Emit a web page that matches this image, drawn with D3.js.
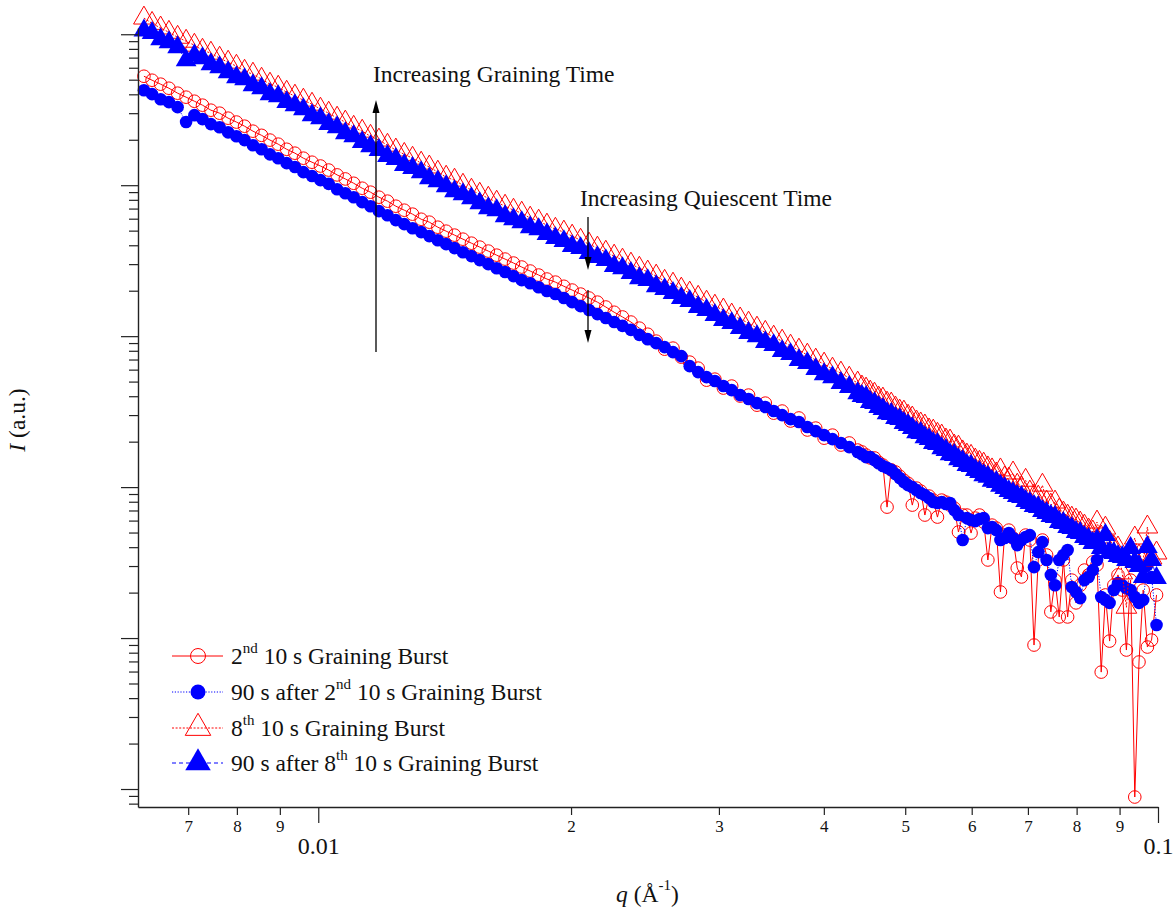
<!DOCTYPE html>
<html>
<head>
<meta charset="utf-8">
<script src="https://cdnjs.cloudflare.com/ajax/libs/d3/7.8.5/d3.min.js"></script>
<style>
  body { margin: 0; background: #fff; }
  svg { font-family: "Liberation Serif", "Times New Roman", serif; }
</style>
</head>
<body>
<svg id="chart" width="1175" height="909"></svg>
<script>
// scattering vector q (1/Angstrom), shared by all four traces
const qValues = [
  0.00620, 0.00634, 0.00649, 0.00664, 0.00680, 0.00696, 0.00712, 0.00728, 0.00745, 0.00763,
  0.00781, 0.00799, 0.00817, 0.00836, 0.00856, 0.00876, 0.00896, 0.00917, 0.00938, 0.00960,
  0.00983, 0.01006, 0.01029, 0.01053, 0.01077, 0.01102, 0.01128, 0.01154, 0.01181, 0.01209,
  0.01237, 0.01266, 0.01295, 0.01326, 0.01356, 0.01388, 0.01420, 0.01453, 0.01487, 0.01522,
  0.01557, 0.01594, 0.01631, 0.01669, 0.01708, 0.01747, 0.01788, 0.01830, 0.01872, 0.01916,
  0.01961, 0.02006, 0.02053, 0.02101, 0.02150, 0.02200, 0.02251, 0.02303, 0.02357, 0.02412,
  0.02468, 0.02526, 0.02585, 0.02645, 0.02706, 0.02769, 0.02834, 0.02900, 0.02967, 0.03037,
  0.03107, 0.03180, 0.03254, 0.03330, 0.03407, 0.03486, 0.03568, 0.03651, 0.03736, 0.03823,
  0.03912, 0.04003, 0.04096, 0.04192, 0.04289,
  0.04389, 0.04440, 0.04491, 0.04543, 0.04596, 0.04649, 0.04703, 0.04757, 0.04812, 0.04868,
  0.04925, 0.04982, 0.05039, 0.05098, 0.05157, 0.05217, 0.05277, 0.05338, 0.05400, 0.05462,
  0.05526, 0.05590, 0.05654, 0.05720, 0.05786, 0.05853, 0.05921, 0.05989, 0.06059, 0.06129,
  0.06200, 0.06272, 0.06344, 0.06418, 0.06492, 0.06567, 0.06643, 0.06720, 0.06798, 0.06877,
  0.06956, 0.07037, 0.07118, 0.07201, 0.07284, 0.07368, 0.07454, 0.07540, 0.07627, 0.07716,
  0.07805, 0.07895, 0.07987, 0.08079, 0.08173, 0.08267, 0.08363, 0.08460, 0.08558, 0.08657,
  0.08757, 0.08859, 0.08961, 0.09065, 0.09170, 0.09276, 0.09383, 0.09492, 0.09602, 0.09713,
  0.09825, 0.0996
];

// 2nd 10 s graining burst (red open circles)
const burst2 = [
  52700, 49600, 46700, 43900, 40700, 38300, 36000, 33900, 31400, 30000,
  27800, 26200, 24600, 22800, 21400, 19900, 18700, 17300, 16300, 15100,
  14200, 13400, 12600, 11700, 11000, 10300, 9550, 8990, 8330, 7840,
  7260, 6830, 6430, 5950, 5690, 5270, 4960, 4670, 4390, 4130,
  3890, 3660, 3440, 3240, 3050, 2870, 2700, 2540, 2390, 2280,
  2140, 2020, 1900, 1790, 1680, 1560, 1440, 1340, 1240, 1130,
  1030, 927, 820, 833, 726, 673, 614, 511, 519, 453,
  467, 401, 407, 349, 360, 309, 319, 274, 287, 239,
  246, 211, 221, 190, 196,
  176, 171, 163, 156, 156, 146, 140, 73.7, 130, 126,
  118, 111, 106, 76.0, 98.5, 94.1, 65.3, 87.2, 82.0, 63.3,
  82.0, 79.6, 76.0, 72.6, 50.4, 65.3, 65.3, 49.6, 62.3, 65.3,
  58.7, 32.9, 56.0, 53.5, 20.2, 48.1, 51.9, 46.0, 29.1, 25.4,
  48.1, 44.6, 8.99, 32.9, 44.6, 35.5, 14.9, 24.2, 13.8, 32.9,
  13.8, 24.2, 17.1, 22.4, 28.2, 26.2, 31.9, 30.5, 5.95, 19.3,
  9.55, 22.4, 26.2, 20.8, 8.33, 24.2, 0.885, 6.94, 20.8, 8.72,
  9.70, 19.3
];

// 90 s after 2nd burst (blue filled circles)
const after2 = [
  42600, 40100, 37100, 35500, 32900, 26200, 29100, 27400, 25400, 24200,
  22400, 21100, 19900, 18400, 17300, 16000, 15100, 14000, 13200, 12200,
  11500, 10800, 10200, 9410, 8850, 8330, 7720, 7260, 6730, 6330,
  5870, 5520, 5190, 4890, 4600, 4320, 4070, 3830, 3600, 3390,
  3190, 3000, 2820, 2660, 2500, 2350, 2240, 2110, 1990, 1900,
  1790, 1680, 1580, 1490, 1400, 1320, 1240, 1170, 1100, 1020,
  955, 899, 846, 784, 737, 633, 578, 535, 504, 467,
  439, 407, 383, 360, 339, 319, 300, 282, 270, 250,
  235, 221, 208, 196, 184,
  171, 165, 158, 158, 151, 144, 138, 134, 130, 122,
  115, 108, 103, 100, 95.5, 91.3, 88.5, 84.6, 79.6, 78.4,
  79.6, 77.2, 78.4, 70.4, 65.3, 44.6, 62.3, 60.5, 59.5, 61.4,
  62.3, 53.5, 54.4, 51.9, 44.6, 46.0, 49.6, 46.0, 41.3, 44.6,
  46.7, 48.1, 29.5, 37.1, 43.2, 32.9, 26.2, 22.4, 32.9, 35.5,
  38.3, 21.8, 20.2, 18.4, 24.2, 25.4, 28.2, 32.9, 18.7, 17.9,
  17.1, 20.8, 23.1, 22.4, 21.4, 20.8, 18.7, 17.1, 17.9, 30.5,
  25.4, 12.2
];

// 8th 10 s graining burst (red open triangles)
const burst8 = [
  128000, 118000, 110000, 103000, 95500, 89900, 84600, 78400, 74900, 69400,
  65300, 61400, 56900, 54400, 50400, 46700, 44600, 41300, 38900, 36600,
  34400, 31900, 30000, 27800, 26200, 24200, 22800, 21100, 19900, 18400,
  17100, 16000, 15100, 14000, 13200, 12200, 11300, 10800, 10000, 9270,
  8720, 8200, 7720, 7260, 6830, 6530, 6050, 5780, 5440, 5110,
  4890, 4600, 4320, 4070, 3830, 3600, 3390, 3190, 3000, 2820,
  2660, 2500, 2310, 2210, 2050, 1930, 1810, 1680, 1580, 1490,
  1380, 1300, 1220, 1130, 1060, 985, 927, 859, 808, 749,
  694, 653, 605, 569, 527,
  489, 460, 446, 426, 413, 389, 383, 360, 355, 334,
  319, 314, 295, 287, 270, 262, 254, 239, 235, 224,
  218, 205, 202, 187, 184, 171, 163, 160, 151, 146,
  142, 134, 130, 122, 130, 115, 113, 124, 103, 98.5,
  111, 92.7, 87.2, 85.9, 103, 79.6, 76.0, 79.6, 70.4, 67.3,
  64.3, 62.3, 60.5, 57.8, 55.2, 51.9, 50.4, 58.7, 46.7, 53.5,
  43.2, 40.1, 39.5, 27.0, 16.0, 37.7, 46.0, 34.9, 32.9, 54.4,
  33.9, 36.6
];

// 90 s after 8th burst (blue filled triangles)
const after8 = [
  106000, 102000, 92700, 88500, 82000, 67300, 72600, 69400, 63300, 60500,
  56000, 51900, 50400, 46000, 43900, 40100, 38900, 35500, 33900, 31900,
  29100, 27800, 25400, 24200, 22100, 21100, 19300, 18100, 17100, 15600,
  14900, 13600, 13000, 12200, 11100, 10600, 9850, 9130, 8720, 8200,
  7600, 7040, 6830, 6230, 5950, 5690, 5270, 5110, 4740, 4460,
  4260, 3950, 3830, 3550, 3340, 3190, 2910, 2820, 2620, 2420,
  2350, 2140, 2050, 1930, 1790, 1710, 1560, 1490, 1380, 1280,
  1220, 1130, 1050, 1000, 913, 872, 796, 760, 694, 663,
  605, 560, 535, 489, 460,
  419, 401, 395, 366, 360, 339, 329, 309, 305, 287,
  282, 266, 258, 246, 231, 228, 214, 208, 196, 193,
  181, 176, 165, 163, 153, 149, 140, 138, 130, 126,
  120, 117, 110, 108, 102, 98.5, 94.1, 91.3, 87.2, 85.9,
  80.8, 78.4, 74.9, 73.7, 69.4, 67.3, 64.3, 63.3, 58.7, 57.8,
  54.4, 53.5, 50.4, 49.6, 46.7, 45.3, 42.6, 44.6, 39.5, 48.1,
  37.1, 36.6, 34.9, 34.4, 32.9, 39.5, 31.9, 30.0, 25.4, 40.1,
  32.9, 25.0
];

const seriesNames = [
  ["2", "nd", " 10 s Graining Burst"],
  ["90 s after 2", "nd", " 10 s Graining Burst"],
  ["8", "th", " 10 s Graining Burst"],
  ["90 s after 8", "th", " 10 s Graining Burst"]
];

// x axis ticks and their labels
const xTickValues = [0.007, 0.008, 0.009, 0.01, 0.02, 0.03, 0.04, 0.05, 0.06, 0.07, 0.08, 0.09, 0.1];
const xTickLabels = ["7", "8", "9", "0.01", "2", "3", "4", "5", "6", "7", "8", "9", "0.1"];
const xMajor = [0.01, 0.1];
// y axis decades (ticks only, no labels)
const yDecades = [0.1, 1, 10, 100, 1000, 10000, 100000];

let svg = d3.select("#chart");

let x = d3.scaleLog().domain([0.0061, 0.1]).range([138, 1158]);
let y = d3.scaleLog().domain([0.76, 1.1e5]).range([807, 28]);

let series = [
  { values: burst2, color: "#ff0000", shape: "circle", filled: false, dash: null },
  { values: after2, color: "#0000ff", shape: "circle", filled: true, dash: "1.2,1.6" },
  { values: burst8, color: "#ff0000", shape: "triangle", filled: false, dash: "2,1.6" },
  { values: after8, color: "#0000ff", shape: "triangle", filled: true, dash: "4,3" }
];

let n = Math.min(qValues.length, burst2.length, after2.length, burst8.length, after8.length);

let line = d3.line()
  .x(d => x(d[0]))
  .y(d => y(d[1]));

let triangle = d3.symbol().type(d3.symbolTriangle);

// draw a marker of the given shape into a selection
function addMarkers(sel, s, size) {
  if (s.shape === "circle") {
    sel.append("circle")
      .attr("r", size)
      .attr("fill", s.filled ? s.color : "none")
      .attr("stroke", s.color)
      .attr("stroke-width", s.filled ? 0 : 1);
  } else {
    sel.append("path")
      .attr("d", triangle.size(size * size * 1.1)())
      .attr("fill", s.filled ? s.color : "none")
      .attr("stroke", s.color)
      .attr("stroke-width", s.filled ? 0 : 1);
  }
}

// traces
series.forEach(s => {
  let pts = d3.range(n).map(i => [qValues[i], s.values[i]]);
  let g = svg.append("g");
  g.append("path")
    .datum(pts)
    .attr("d", line)
    .attr("fill", "none")
    .attr("stroke", s.color)
    .attr("stroke-width", 1)
    .attr("stroke-dasharray", s.dash);
  let m = g.selectAll("g")
    .data(pts)
    .enter().append("g")
      .attr("transform", d => `translate(${x(d[0])},${y(d[1])})`);
  addMarkers(m, s, s.shape === "circle" ? 6.3 : 13);
});

// x axis
let xAxis = svg.append("g")
  .attr("transform", "translate(0,807)")
  .call(d3.axisBottom(x)
    .tickValues(xTickValues)
    .tickSize(8)
    .tickSizeOuter(0)
    .tickFormat((d, i) => xTickLabels[i]));
xAxis.select(".domain").attr("stroke", "#222").attr("stroke-width", 1.4);
xAxis.selectAll(".tick line")
  .attr("stroke", "#222").attr("stroke-width", 1.2)
  .attr("y2", d => xMajor.includes(d) ? 16 : 8);
xAxis.selectAll(".tick text")
  .attr("fill", "#111")
  .attr("font-family", "Liberation Serif, serif")
  .attr("font-size", d => xMajor.includes(d) ? 24 : 17)
  .attr("y", d => xMajor.includes(d) ? 30 : 13);

// y axis (minor and major ticks, no labels)
let yTicks = [];
yDecades.forEach(dec => {
  for (let k = 1; k <= 9; k++) {
    let v = dec * k;
    if (v >= 0.76 && v <= 1.1e5) yTicks.push(v);
  }
});
let yAxis = svg.append("g")
  .attr("transform", "translate(138,0)")
  .call(d3.axisLeft(y)
    .tickValues(yTicks)
    .tickSize(9)
    .tickSizeOuter(0)
    .tickFormat(""));
yAxis.select(".domain").attr("stroke", "#222").attr("stroke-width", 1.4);
yAxis.selectAll(".tick line")
  .attr("stroke", "#222").attr("stroke-width", 1.2)
  .attr("x2", d => yDecades.some(dec => Math.abs(d - dec) / dec < 1e-6) ? -17 : -9);

// axis titles
let yTitle = svg.append("text")
  .attr("transform", "translate(25,420) rotate(-90)")
  .attr("text-anchor", "middle")
  .attr("font-size", 23.5)
  .attr("fill", "#111");
yTitle.append("tspan").attr("font-style", "italic").text("I");
yTitle.append("tspan").text(" (a.u.)");

let xTitle = svg.append("text")
  .attr("x", 616)
  .attr("y", 902)
  .attr("font-size", 23.5)
  .attr("fill", "#111");
xTitle.append("tspan").attr("font-style", "italic").text("q");
xTitle.append("tspan").text(" (Å");
xTitle.append("tspan").attr("font-size", 15).attr("dy", -12).text("-1");
xTitle.append("tspan").attr("dy", 12).text(")");

// legend
let legendRows = [656, 692, 728, 763];
series.forEach((s, i) => {
  let g = svg.append("g").attr("transform", `translate(0,${legendRows[i]})`);
  g.append("line")
    .attr("x1", 172).attr("x2", 223)
    .attr("stroke", s.color)
    .attr("stroke-width", 1)
    .attr("stroke-dasharray", s.dash);
  let mk = g.append("g").attr("transform", "translate(198,0)");
  addMarkers(mk, s, s.shape === "circle" ? 7.5 : 16);
  let t = g.append("text")
    .attr("x", 231)
    .attr("y", 8)
    .attr("font-size", 23.5)
    .attr("fill", "#111");
  t.append("tspan").text(seriesNames[i][0]);
  t.append("tspan").attr("font-size", 15).attr("dy", -11).text(seriesNames[i][1]);
  t.append("tspan").attr("dy", 11).text(seriesNames[i][2]);
});

// annotation arrows
function arrow(x0, yFrom, yTo) {
  let dir = yTo < yFrom ? -1 : 1;
  svg.append("line")
    .attr("x1", x0).attr("x2", x0)
    .attr("y1", yFrom).attr("y2", yTo - dir * 8)
    .attr("stroke", "#000").attr("stroke-width", 1.3);
  svg.append("path")
    .attr("d", `M${x0},${yTo} L${x0 - 3.5},${yTo - dir * 13} L${x0 + 3.5},${yTo - dir * 13} Z`)
    .attr("fill", "#000");
}

svg.append("text")
  .attr("x", 373).attr("y", 82)
  .attr("font-size", 23.5).attr("fill", "#111")
  .text("Increasing Graining Time");
arrow(376, 352, 100);

svg.append("text")
  .attr("x", 580).attr("y", 206)
  .attr("font-size", 23.5).attr("fill", "#111")
  .text("Increasing Quiescent Time");
arrow(588, 217, 270);
arrow(588, 290, 343);
</script>
</body>
</html>
